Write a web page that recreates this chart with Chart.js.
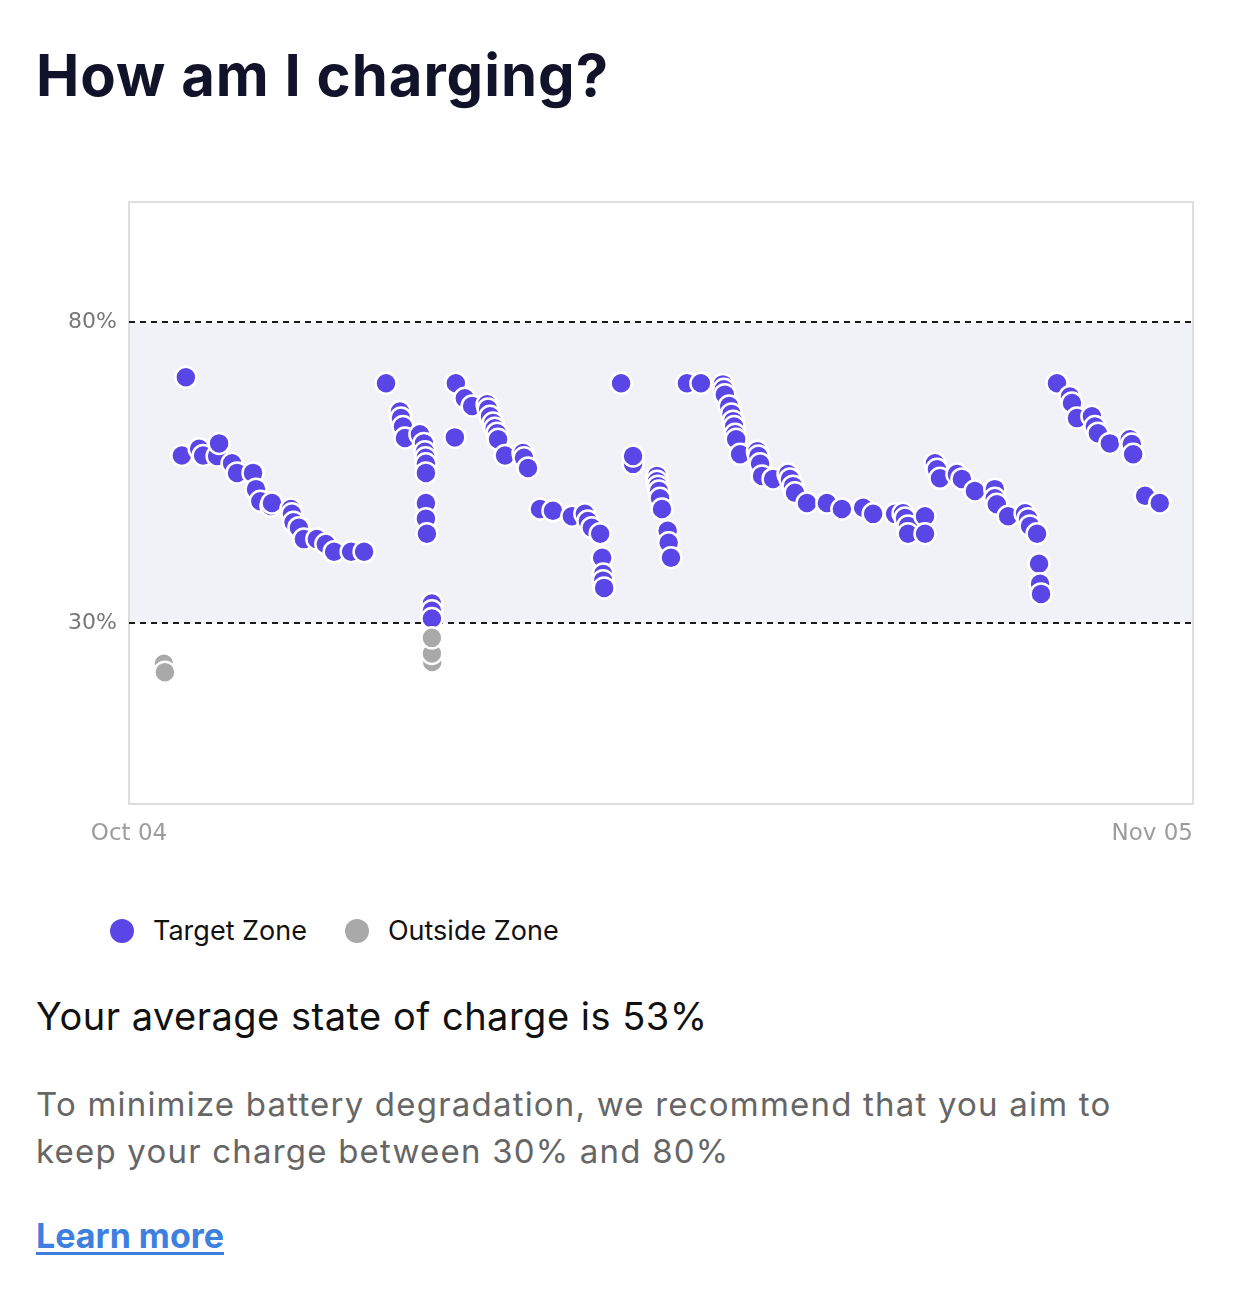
<!DOCTYPE html>
<html>
<head>
<meta charset="utf-8">
<script src="https://cdn.jsdelivr.net/npm/chart.js@4"></script>
<style>
  html, body { margin: 0; padding: 0; background: #fff; }
  body { width: 1239px; height: 1300px; position: relative; overflow: hidden; font-family: Inter, "Noto Sans", sans-serif; color: #12132a; }
  h1 { position: absolute; left: 36px; top: 43px; margin: 0; font-size: 58px; line-height: 64px; font-weight: 700; letter-spacing: 1px; }
  #wrap { position: absolute; left: 0; top: 189px; width: 1239px; height: 661px; }
  .legend { position: absolute; top: 914px; left: 110px; display: flex; align-items: center; font-size: 27px; color: #111; }
  .legend span.dot { display: inline-block; width: 24px; height: 24px; border-radius: 50%; margin-right: 19px; }
  .legend .item { display: flex; align-items: center; margin-right: 38px; }
  .avg { position: absolute; left: 36px; top: 993px; margin: 0; font-size: 38px; font-weight: 400; line-height: 46px; letter-spacing: 0.5px; color: #111; }
  .note { position: absolute; left: 36px; top: 1081px; margin: 0; font-size: 33px; line-height: 47px; letter-spacing: 1.2px; color: #666; white-space: nowrap; }
  .more { position: absolute; left: 36px; top: 1215px; font-size: 34px; font-weight: 700; color: #3d80e0; text-decoration: underline; text-underline-offset: 4px; }
</style>
</head>
<body>
<h1>How am I charging?</h1>
<div id="wrap"><canvas id="chart-soc" width="1239" height="661"></canvas></div>
<div class="legend">
  <div class="item"><span class="dot" style="background:#5a46e6"></span>Target Zone</div>
  <div class="item"><span class="dot" style="background:#a9a9a9"></span>Outside Zone</div>
</div>
<p class="avg">Your average state of charge is 53%</p>
<p class="note">To minimize battery degradation, we recommend that you aim to<br>keep your charge between 30% and 80%</p>
<a class="more">Learn more</a>
<script>
(function () {
  // x = days since Oct 04, y = state of charge (%)
  const targetPoints = [
    [1.71, 70.9],
    [1.59, 57.9], [2.11, 59.0], [2.23, 57.9], [2.65, 57.8], [2.71, 59.9], [3.10, 56.6], [3.25, 55.0],
    [3.73, 55.0], [3.82, 52.3], [3.95, 50.3], [4.27, 49.5], [4.30, 50.0], [4.87, 49.0], [4.90, 48.2],
    [4.95, 46.8], [5.11, 45.9], [5.26, 44.0], [5.65, 44.0], [5.92, 43.2], [6.17, 41.9], [6.68, 41.9], [7.07, 41.9],
    [7.73, 69.9], [8.15, 65.2], [8.18, 64.1], [8.24, 62.7], [8.30, 60.8], [8.75, 61.4], [8.87, 59.9],
    [8.90, 58.5], [8.92, 57.5], [8.93, 56.5], [8.93, 55.0], [8.93, 50.0], [8.93, 47.4], [8.96, 44.9],
    [9.11, 33.3], [9.11, 32.1], [9.11, 30.8],
    [9.80, 60.9],
    [9.83, 69.9], [10.10, 67.4], [10.32, 66.1], [10.77, 66.4], [10.80, 65.6], [10.86, 64.4], [10.95, 63.3],
    [11.00, 62.4], [11.07, 61.6], [11.10, 60.6], [11.31, 57.9], [11.85, 58.3], [11.88, 57.5], [12.00, 55.8],
    [12.36, 49.0], [12.75, 48.7], [13.32, 47.8], [13.71, 48.2], [13.80, 47.0], [13.92, 45.9], [14.17, 44.9],
    [14.23, 40.9], [14.26, 38.2], [14.26, 37.1], [14.29, 35.9],
    [14.80, 69.9],
    [15.16, 56.5], [15.16, 57.8], [15.88, 54.5], [15.88, 53.6], [15.91, 52.8], [15.94, 52.0], [15.97, 50.8],
    [16.03, 49.0], [16.20, 45.4], [16.23, 43.4], [16.30, 40.9],
    [16.78, 69.9], [17.20, 69.9], [17.86, 69.7], [17.89, 68.9], [17.92, 68.0], [18.05, 66.1], [18.12, 64.8],
    [18.17, 63.6], [18.20, 62.7], [18.23, 61.4], [18.26, 60.6], [18.38, 58.1], [18.90, 58.6], [18.93, 57.8],
    [18.98, 56.5], [19.04, 54.5], [19.37, 54.0], [19.82, 54.8], [19.88, 54.0], [19.97, 52.8], [20.03, 51.7],
    [20.39, 50.0], [20.99, 50.0], [21.44, 49.0], [22.08, 49.2], [22.38, 48.2], [23.04, 48.2], [23.28, 48.3],
    [23.34, 47.5], [23.43, 46.2], [23.43, 44.9], [23.94, 47.8], [23.94, 44.9],
    [24.24, 56.6], [24.30, 55.6], [24.39, 54.1], [24.90, 54.8], [25.05, 54.0], [25.44, 52.0], [26.04, 52.3],
    [26.04, 50.8], [26.10, 49.8], [26.44, 47.8], [26.95, 48.3], [27.04, 47.4], [27.10, 46.2], [27.31, 44.9],
    [27.37, 39.9], [27.40, 36.6], [27.43, 34.9],
    [27.91, 69.9], [28.30, 67.7], [28.36, 66.6], [28.51, 64.1], [28.96, 64.4], [29.05, 62.7], [29.14, 61.6],
    [29.50, 59.9], [30.10, 60.6], [30.16, 59.8], [30.20, 58.1], [30.56, 51.2], [31.00, 50.0],
  ];
  const outsidePoints = [
    [1.05, 23.3], [1.08, 21.9],
    [9.12, 23.6], [9.11, 25.0], [9.11, 27.6],
  ];
  const yTickValues = [30, 80];
  const zoneLow = 30;
  const zoneHigh = 80;
  const xTickValues = [0, 32];
  const xTickLabels = ["Oct 04", "Nov 05"];

  const purple = "#5a46e6";
  const grey = "#a9a9a9";
  const tickFamily = "'DejaVu Sans', sans-serif";

  const toXY = (p) => ({ x: p[0], y: p[1] });
  const xLabel = (v) => xTickLabels[xTickValues.indexOf(v)] || "";

  // light band for the target zone plus the chart frame
  const zoneBand = {
    id: "zoneBand",
    beforeDraw(chart) {
      const { ctx, chartArea, scales } = chart;
      const top = scales.y.getPixelForValue(zoneHigh);
      const bottom = scales.y.getPixelForValue(zoneLow);
      ctx.save();
      ctx.fillStyle = "#f1f2f7";
      ctx.fillRect(chartArea.left, top, chartArea.right - chartArea.left, bottom - top);
      ctx.strokeStyle = "#dedede";
      ctx.lineWidth = 2;
      ctx.strokeRect(chartArea.left, chartArea.top, chartArea.right - chartArea.left, chartArea.bottom - chartArea.top);
      ctx.restore();
    },
  };

  const noPad = (s) => {
    s.paddingTop = 0;
    s.paddingBottom = 0;
    s.paddingLeft = 0;
    s.paddingRight = 0;
  };

  const el = document.getElementById("chart-soc");
  new Chart(el, {
    type: "scatter",
    data: {
      datasets: [
        {
          label: "Outside Zone",
          data: outsidePoints.map(toXY),
          backgroundColor: grey,
          borderColor: "#ffffff",
          borderWidth: 2.5,
          pointRadius: 10.5,
          pointHoverRadius: 10.5,
        },
        {
          label: "Target Zone",
          data: targetPoints.map(toXY),
          backgroundColor: purple,
          borderColor: "#ffffff",
          borderWidth: 2.5,
          pointRadius: 10.5,
          pointHoverRadius: 10.5,
        },
      ],
    },
    options: {
      responsive: false,
      animation: false,
      layout: { padding: { top: 10, right: 46, left: 0, bottom: 0 } },
      plugins: { legend: { display: false }, tooltip: { enabled: false } },
      scales: {
        x: {
          type: "linear",
          min: xTickValues[0],
          max: xTickValues[1],
          afterBuildTicks: (s) => { s.ticks = [{ value: xTickValues[0] }]; },
          afterFit: (s) => { s.height = 46; noPad(s); },
          grid: { display: false },
          border: { display: false },
          ticks: { color: "#9c9c9c", font: { family: tickFamily, size: 23 }, padding: 8, callback: xLabel, maxRotation: 0 },
        },
        x2: {
          type: "linear",
          position: { y: 0 },
          min: xTickValues[0],
          max: xTickValues[1],
          afterBuildTicks: (s) => { s.ticks = [{ value: xTickValues[1] }]; },
          afterFit: noPad,
          grid: { display: false },
          border: { display: false },
          ticks: { color: "#9c9c9c", font: { family: tickFamily, size: 23 }, padding: 8, align: "end", callback: xLabel, maxRotation: 0 },
        },
        y: {
          min: 0,
          max: 100,
          afterBuildTicks: (s) => { s.ticks = yTickValues.map((v) => ({ value: v })); },
          afterFit: (s) => { s.width = 129; noPad(s); },
          grid: { color: "#1a1a1a", lineWidth: 2, drawTicks: false },
          border: { display: false, dash: [6, 5] },
          ticks: { color: "#777777", font: { family: tickFamily, size: 22 }, padding: 12, callback: (v) => v + "%" },
        },
      },
    },
    plugins: [zoneBand],
  });
})();
</script>
</body>
</html>
